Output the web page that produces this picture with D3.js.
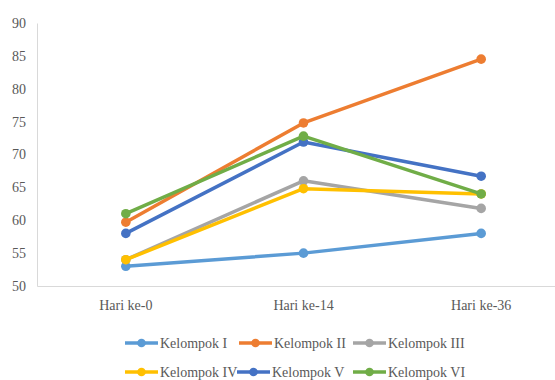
<!DOCTYPE html>
<html><head><meta charset="utf-8"><script src="https://cdn.jsdelivr.net/npm/d3@7"></script></head>
<body style="margin:0">
<script>
// Days of observation
const categories = ["Hari ke-0", "Hari ke-14", "Hari ke-36"];

// Series values per group
const kelompokI   = [53, 55, 58];
const kelompokII  = [59.7, 74.8, 84.5];
const kelompokIII = [54, 66, 61.8];
const kelompokIV  = [54, 64.8, 64];
const kelompokV   = [58, 71.9, 66.7];
const kelompokVI  = [61, 72.8, 64];

const seriesNames = ["Kelompok I", "Kelompok II", "Kelompok III", "Kelompok IV", "Kelompok V", "Kelompok VI"];
const seriesValues = [kelompokI, kelompokII, kelompokIII, kelompokIV, kelompokV, kelompokVI];
const seriesColors = ["#5B9BD5", "#ED7D31", "#A5A5A5", "#FFC000", "#4472C4", "#70AD47"];

const yTicks = [50, 55, 60, 65, 70, 75, 80, 85, 90];

const W = 555, H = 380;
const plot = { left: 37, right: 570, top: 23, bottom: 286 };
const FAMILY = '"Liberation Serif", Tinos, "Times New Roman"';
const serif = t => t
  .attr("font-family", FAMILY).attr("font-size", 14)
  .style("font-family", FAMILY).style("font-size", "14px")
  .attr("fill", "#595959");

const svg = d3.select("body").append("svg")
  .attr("width", W).attr("height", H).style("display", "block")
  .attr("font-family", FAMILY);

const x = d3.scaleBand().domain(categories).range([plot.left, plot.right]);
const y = d3.scaleLinear().domain([50, 90]).range([plot.bottom, plot.top]);

// Y axis
const yAxis = svg.append("g")
  .attr("transform", `translate(${plot.left},0)`)
  .call(d3.axisLeft(y).tickValues(yTicks).tickSize(0).tickPadding(11))
  .attr("font-family", FAMILY);
yAxis.select(".domain").attr("stroke", "#d9d9d9").attr("stroke-width", 1);
yAxis.selectAll("text").call(serif);

// X axis
const xAxis = svg.append("g")
  .attr("transform", `translate(0,${plot.bottom})`)
  .call(d3.axisBottom(x).tickSize(0).tickPadding(14))
  .attr("font-family", FAMILY);
xAxis.select(".domain").attr("stroke", "#d9d9d9").attr("stroke-width", 1);
xAxis.selectAll("text").call(serif);

// Series lines and markers
const line = d3.line()
  .x((d, i) => x(categories[i]) + x.bandwidth() / 2)
  .y(d => y(d));

seriesValues.forEach((vals, s) => {
  const g = svg.append("g");
  g.append("path")
    .datum(vals)
    .attr("d", line)
    .attr("fill", "none")
    .attr("stroke", seriesColors[s])
    .attr("stroke-width", 3.5)
    .attr("stroke-linejoin", "round")
    .attr("stroke-linecap", "round");
  g.selectAll("circle").data(vals).join("circle")
    .attr("cx", (d, i) => x(categories[i]) + x.bandwidth() / 2)
    .attr("cy", d => y(d))
    .attr("r", 4.8)
    .attr("fill", seriesColors[s]);
});

// Legend
const legendPos = [
  { x: 125, y: 343 }, { x: 239, y: 343 }, { x: 353, y: 343 },
  { x: 125, y: 372 }, { x: 237, y: 372 }, { x: 353, y: 372 }
];
seriesNames.forEach((name, s) => {
  const p = legendPos[s];
  const g = svg.append("g").attr("transform", `translate(${p.x},${p.y})`);
  g.append("line")
    .attr("x1", 0).attr("x2", 33).attr("y1", 0).attr("y2", 0)
    .attr("stroke", seriesColors[s]).attr("stroke-width", 3.5);
  g.append("circle").attr("cx", 16.5).attr("cy", 0).attr("r", 4.3).attr("fill", seriesColors[s]);
  g.append("text")
    .attr("x", 35).attr("y", 0).attr("dy", "0.35em")
    .call(serif)
    .text(name);
});
</script>
</body>
</html>
